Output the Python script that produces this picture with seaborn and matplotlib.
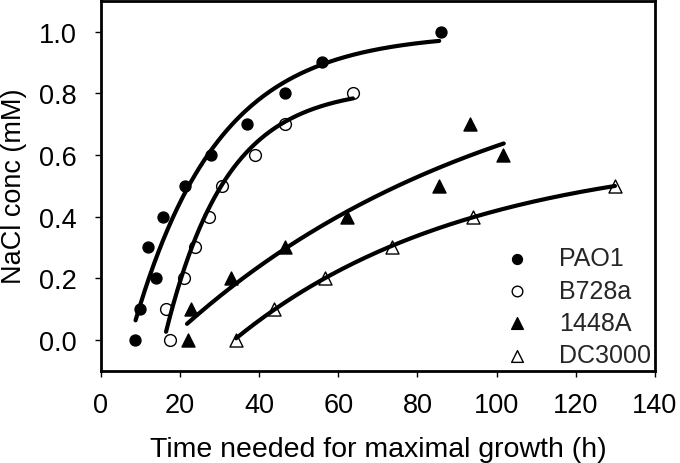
import numpy as np
import pandas as pd
import matplotlib
matplotlib.use("Agg")
import matplotlib.pyplot as plt
import seaborn as sns

# ---------------- data ----------------
strains = ["PAO1", "B728a", "1448A", "DC3000"]

pao1_time = [8.7, 9.8, 11.9, 13.9, 15.8, 21.4, 27.9, 36.9, 46.6, 56.0, 85.9]
pao1_nacl = [0.0, 0.1, 0.3, 0.2, 0.4, 0.5, 0.6, 0.7, 0.8, 0.9, 1.0]

b728a_time = [17.4, 16.4, 21.0, 23.7, 27.3, 30.6, 38.9, 46.6, 63.6]
b728a_nacl = [0.0, 0.1, 0.2, 0.3, 0.4, 0.5, 0.6, 0.7, 0.8]

a1448_time = [22.1, 22.8, 32.8, 46.6, 62.1, 85.4, 93.4, 101.5]
a1448_nacl = [0.0, 0.1, 0.2, 0.3, 0.4, 0.5, 0.7, 0.6]

dc3000_time = [34.2, 43.8, 56.7, 73.6, 94.0, 129.9]
dc3000_nacl = [0.0, 0.1, 0.2, 0.3, 0.4, 0.5]

# fitted curves  y = a * (1 - exp(-b * (t - c)))  drawn between start and end
fit_a = [0.995, 0.82, 1.0, 0.62]
fit_b = [0.047, 0.065, 0.012, 0.017]
fit_c = [7.4, 16.0, 17.35, 33.72]
fit_start = [8.8, 16.5, 21.8, 34.2]
fit_end = [85.5, 63.7, 101.8, 129.9]

x_ticks = [0, 20, 40, 60, 80, 100, 120, 140]
y_ticks = [0.0, 0.2, 0.4, 0.6, 0.8, 1.0]

x_label = "Time needed for maximal growth (h)"
y_label = "NaCl conc (mM)"

# ---------------- styling ----------------
sns.set_theme(style="ticks")
plt.rcParams["font.family"] = ["Liberation Sans", "DejaVu Sans"]
plt.rcParams["axes.linewidth"] = 2.0
plt.rcParams["xtick.major.width"] = 1.0
plt.rcParams["ytick.major.width"] = 1.0
plt.rcParams["xtick.major.size"] = 4.5
plt.rcParams["ytick.major.size"] = 4.5
plt.rcParams["xtick.direction"] = "out"
plt.rcParams["ytick.direction"] = "out"

fig = plt.figure(figsize=(6.8, 4.64), dpi=100)
ax = fig.add_axes([0.1481, 0.1989, 0.8151, 0.7974])

series_time = [pao1_time, b728a_time, a1448_time, dc3000_time]
series_nacl = [pao1_nacl, b728a_nacl, a1448_nacl, dc3000_nacl]
markers = ["o", "o", "^", "^"]
faces = ["black", "white", "black", "white"]
sizes = [62, 72, 88, 88]

handles = []
for name, tx, ny, mk, fc, sz in zip(strains, series_time, series_nacl, markers, faces, sizes):
    df = pd.DataFrame({"time": tx, "nacl": ny})
    sns.scatterplot(data=df, x="time", y="nacl", marker=mk, s=sz, color=fc,
                    edgecolor="black", linewidth=1.0, ax=ax, zorder=2, label=name,
                    legend=False)
    handles.append(ax.collections[-1])

for a, b, c, t0, t1 in zip(fit_a, fit_b, fit_c, fit_start, fit_end):
    t = np.linspace(t0, t1, 200)
    y = a * (1.0 - np.exp(-b * (t - c)))
    sns.lineplot(x=t, y=y, color="black", linewidth=3.0, ax=ax, zorder=3,
                 sort=False, estimator=None)

ax.set_xlim(0, 140)
ax.set_ylim(-0.1, 1.1)
ax.set_xticks(x_ticks)
ax.set_yticks(y_ticks)
ax.set_xticklabels([str(v) for v in x_ticks])
ax.set_yticklabels([f"{v:.1f}" for v in y_ticks])
ax.tick_params(axis="x", labelsize=19.5, pad=11, colors="black")
ax.tick_params(axis="y", labelsize=19.5, pad=12.5, colors="black")
ax.set_xlabel(x_label, fontsize=20.5, labelpad=13, color="black")
ax.set_ylabel(y_label, fontsize=19.5, labelpad=9, color="black")
for sp in ax.spines.values():
    sp.set_visible(True)
    sp.set_color("black")
    sp.set_linewidth(2.0)

leg = ax.legend(handles=handles, labels=strains, loc="upper left",
                bbox_to_anchor=(0.729, 0.336), frameon=False, fontsize=18,
                handlelength=1.0, handletextpad=1.18, labelspacing=0.33,
                borderpad=0, borderaxespad=0, markerscale=0.9)

fig.savefig("out.png", dpi=100)
